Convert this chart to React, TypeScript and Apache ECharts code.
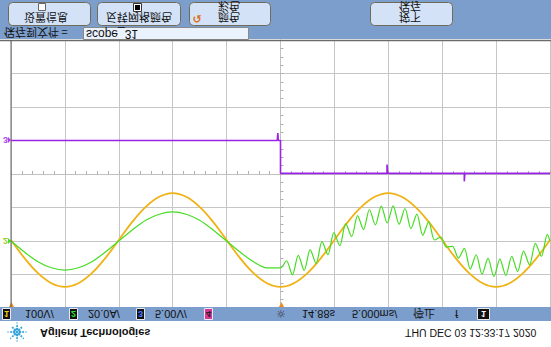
import React, { useEffect, useRef } from "react";
import * as echarts from "echarts";

// ---- data (time in ms relative to trigger, amplitude in screen divisions) ----
const timeMs1 = [-25, -23.75, -22.5, -21.25, -20, -18.75, -17.5, -16.25, -15, -13.75, -12.5, -11.25, -10, -8.75, -7.5, -6.25, -5, -3.75, -2.5, -1.25, 0, 1.25, 2.5, 3.75, 5, 6.25, 7.5, 8.75, 10, 11.25, 12.5, 13.75, 15, 16.25, 17.5, 18.75, 20, 21.25, 22.5, 23.75, 25];
const ch1Div = [-1.97, -2.51, -2.96, -3.26, -3.37, -3.26, -2.96, -2.51, -1.97, -1.43, -0.98, -0.68, -0.57, -0.68, -0.98, -1.43, -1.97, -2.51, -2.96, -3.26, -3.37, -3.26, -2.96, -2.51, -1.97, -1.43, -0.98, -0.68, -0.57, -0.68, -0.98, -1.43, -1.97, -2.51, -2.96, -3.26, -3.37, -3.26, -2.96, -2.51, -1.97];

const timeMs2 = [-25, -23.75, -22.5, -21.25, -20, -18.75, -17.5, -16.25, -15, -13.75, -12.5, -11.25, -10, -8.75, -7.5, -6.25, -5, -3.75, -2.5, -1.25,
  0, 0.55, 1.1, 1.65, 2.2, 2.75, 3.3, 3.85, 4.4, 4.95, 5.5, 6.05, 6.6, 7.15, 7.7, 8.25, 8.8, 9.35, 9.9, 10.45, 11, 11.55, 12.1, 12.65, 13.2, 13.75, 14.3, 14.85, 15.4, 15.95, 16.5, 17.05, 17.6, 18.15, 18.7, 19.25, 19.8, 20.35, 20.9, 21.45, 22, 22.55, 23.1, 23.65, 24.2, 24.75, 25];
const ch2Div = [-2.0, -2.33, -2.62, -2.8, -2.87, -2.8, -2.62, -2.33, -2.0, -1.67, -1.38, -1.2, -1.13, -1.2, -1.38, -1.67, -2.0, -2.33, -2.62, -2.8,
  -2.8, -2.59, -3.01, -2.43, -2.88, -2.26, -2.67, -2.02, -2.41, -1.75, -2.14, -1.48, -1.87, -1.24, -1.66, -1.06, -1.52, -0.96, -1.46, -0.95, -1.5, -1.03, -1.63, -1.2, -1.83, -1.43, -1.97, -1.88, -2.18, -2.16, -2.51, -2.22, -2.84, -2.41, -2.99, -2.52, -3.06, -2.54, -3.03, -2.46, -2.91, -2.3, -2.71, -2.07, -2.46, -1.8, -2.0];

const timeMs3 = [-25, -0.3, -0.25, -0.2, 0, 0, 9.88, 9.88, 9.95, 17.05, 17.05, 17.1, 25];
const ch3Div = [1.0, 1.0, 1.22, 1.0, 1.0, 0.02, 0.02, 0.28, 0.02, 0.02, -0.22, 0.02, 0.02];

const chScales = ["100V/", "20.0A/", "5.00V/"];
const delayText = "14.88s";
const timebaseText = "5.000ms/";
const runState = "停止";
const dateText = "THU DEC 03 12:33:17 2020";
const fileLabel = "保存到文件 =";
const fileName = "scope_31";
const softkeyLabels = ["设置信息", "反转网格颜色", "颜色\n彩色", "按下\n保存"];

const zip = (xs: number[], ys: number[]) => xs.map((x, i) => [x, ys[i]]);

const BLUE = "#7c9ecc";
const CJK = '"Noto Sans CJK SC"';
const SANS = '"Liberation Sans", Arial';

function ftext(x: number, y: number, text: string, o: any = {}) {
  return {
    type: "text",
    x,
    y,
    scaleY: -1,
    z: 40,
    style: {
      text,
      x: 0,
      y: 0,
      fill: o.fill || "#111",
      font: o.font || `11px ${CJK}`,
      align: o.align || "left",
      verticalAlign: "middle",
      lineHeight: o.lineHeight || 11,
    },
  };
}

export default function App() {
  const ref = useRef<HTMLDivElement>(null);
  useEffect(() => {
    if (!ref.current) return;
    const chart = echarts.init(ref.current, undefined, { renderer: "svg" });

    const g: any[] = [];
    // top toolbar
    g.push({ type: "rect", shape: { x: 0, y: 0, width: 551, height: 39 }, style: { fill: BLUE }, z: 1 });
    const btns = [
      { x: 8, w: 82 },
      { x: 97, w: 83 },
      { x: 189, w: 81 },
      { x: 370, w: 82 },
    ];
    btns.forEach((b) => {
      g.push({ type: "rect", shape: { x: b.x + 0.5, y: 2.5, width: b.w, height: 23, r: 4 }, style: { fill: "#d3e2f6", stroke: "#6f6b5a", lineWidth: 1 }, z: 5 });
    });
    // checkbox icons
    g.push({ type: "rect", shape: { x: 38.5, y: 3.5, width: 7, height: 7 }, style: { fill: "#ffffff", stroke: "#666", lineWidth: 1 }, z: 6 });
    g.push({ type: "rect", shape: { x: 133.5, y: 3.5, width: 8, height: 8 }, style: { fill: "#ffffff", stroke: "#333", lineWidth: 1 }, z: 6 });
    g.push({ type: "rect", shape: { x: 135, y: 5, width: 5, height: 5 }, style: { fill: "#000" }, z: 7 });
    g.push(ftext(46, 17.5, softkeyLabels[0], { align: "center" }));
    g.push(ftext(139, 17.5, softkeyLabels[1], { align: "center" }));
    g.push(ftext(229, 12.5, softkeyLabels[2], { align: "center" }));
    g.push(ftext(410, 12.5, softkeyLabels[3], { align: "center" }));
    g.push({ type: "text", x: 197, y: 19, z: 40, style: { text: "↺", fill: "#e06a10", font: `bold 11px "DejaVu Sans"`, align: "center", verticalAlign: "middle" } });
    // file name row
    g.push(ftext(4, 33, fileLabel, {}));
    g.push({ type: "rect", shape: { x: 83.5, y: 27.5, width: 165, height: 12 }, style: { fill: "#eaf2fd", stroke: "#8a8a8a", lineWidth: 1 }, z: 5 });
    g.push(ftext(86, 33.5, fileName, { font: `12px ${SANS}` }));

    // plot borders
    g.push({ type: "line", shape: { x1: 0, y1: 40.5, x2: 551, y2: 40.5 }, style: { stroke: "#6b6b6b", lineWidth: 1.5 }, z: 30 });
    g.push({ type: "line", shape: { x1: 11, y1: 40, x2: 11, y2: 307 }, style: { stroke: "#606060", lineWidth: 1 }, z: 30 });

    // left channel markers
    g.push(ftext(3, 140, "3", { fill: "#b040f0", font: `bold 9px ${SANS}` }));
    g.push({ type: "polygon", shape: { points: [[8, 137], [11, 140], [8, 143]] }, style: { fill: "#b040f0" }, z: 20 });
    g.push(ftext(3, 241, "2", { fill: "#9ccd1c", font: `bold 9px ${SANS}` }));
    g.push({ type: "polygon", shape: { points: [[8, 238], [11, 241], [8, 244]] }, style: { fill: "#44dd22" }, z: 20 });

    // trigger markers
    g.push({ type: "polygon", shape: { points: [[9, 307], [14, 307], [11.5, 302]] }, style: { fill: "#f08a1c" }, z: 25 });
    g.push({ type: "polygon", shape: { points: [[279, 307], [284, 307], [281.5, 302]] }, style: { fill: "#f08a1c" }, z: 25 });

    // status bar
    g.push({ type: "rect", shape: { x: 0, y: 307, width: 551, height: 14 }, style: { fill: BLUE }, z: 21 });
    const box = (x: number, w: number, fill: string, digit: string, dfill: string) => {
      g.push({ type: "rect", shape: { x: x + 0.5, y: 308.5, width: w, height: 11 }, style: { fill, stroke: "#e8e8e8", lineWidth: 1 }, z: 22 });
      g.push(ftext(x + w / 2 + 0.5, 314, digit, { fill: dfill, font: `bold 9px ${SANS}`, align: "center" }));
    };
    box(2, 8, "#111", "1", "#f0d010");
    box(69, 8, "#111", "2", "#30e030");
    box(136, 8, "#111", "3", "#5078ff");
    box(204, 8, "#d8369a", "4", "#222");
    g.push(ftext(25, 314, chScales[0], { font: `11px ${SANS}` }));
    g.push(ftext(88, 314, chScales[1], { font: `11px ${SANS}` }));
    g.push(ftext(155, 314, chScales[2], { font: `11px ${SANS}` }));
    g.push({ type: "text", x: 281, y: 314, z: 40, style: { text: "☼", fill: "#333", font: `11px "DejaVu Sans"`, align: "center", verticalAlign: "middle" } });
    g.push(ftext(302, 314, delayText, { font: `11px ${SANS}` }));
    g.push(ftext(352, 314, timebaseText, { font: `11px ${SANS}` }));
    g.push(ftext(413, 314, runState, { font: `11px ${CJK}` }));
    g.push(ftext(455, 314, "f", { font: `11px ${SANS}` }));
    g.push({ type: "rect", shape: { x: 477.5, y: 308.5, width: 12, height: 11 }, style: { fill: "#111", stroke: "#e8e8e8", lineWidth: 1 }, z: 22 });
    g.push(ftext(483.5, 314, "1", { fill: "#fff", font: `bold 9px ${SANS}`, align: "center" }));

    // Agilent logo spark
    const cx = 17, cy = 332;
    for (let a = 0; a < 8; a++) {
      const ang = (a * Math.PI) / 4;
      [3, 6, 9].forEach((rr, j) => {
        g.push({ type: "circle", shape: { cx: cx + Math.cos(ang) * rr, cy: cy + Math.sin(ang) * rr, r: [1.3, 1.0, 0.7][j] }, style: { fill: "#38a4dc" }, z: 20 });
      });
    }
    g.push({ type: "circle", shape: { cx, cy, r: 1.5 }, style: { fill: "#38a4dc" }, z: 20 });
    g.push(ftext(40, 333, "Agilent Technologies", { font: `bold 11px ${SANS}` }));
    g.push(ftext(405, 333, dateText, { font: `10.5px ${SANS}` }));

    const gridLine = { show: true, lineStyle: { color: "#c6c6c6", width: 1 } };
    chart.setOption({
      animation: false,
      backgroundColor: "#ffffff",
      grid: { left: 11, right: 1, top: 40, bottom: 39, containLabel: false },
      xAxis: {
        type: "value",
        min: -25,
        max: 25,
        interval: 5,
        axisLabel: { show: false },
        splitLine: gridLine,
        axisLine: { show: true, onZero: true, lineStyle: { color: "#c0c0c0" } },
        axisTick: { show: true, inside: true, length: 3, lineStyle: { color: "#b0b0b0" } },
        minorTick: { show: true, splitNumber: 5, length: 3, lineStyle: { color: "#b0b0b0" } },
      },
      yAxis: {
        type: "value",
        min: -4,
        max: 4,
        interval: 1,
        axisLabel: { show: false },
        splitLine: gridLine,
        axisLine: { show: true, onZero: true, lineStyle: { color: "#c0c0c0" } },
        axisTick: { show: true, inside: true, length: 3, lineStyle: { color: "#b0b0b0" } },
        minorTick: { show: true, splitNumber: 4, length: 3, lineStyle: { color: "#b0b0b0" } },
      },
      series: [
        {
          name: "CH1",
          type: "line",
          data: zip(timeMs1, ch1Div),
          smooth: 0.4,
          showSymbol: false,
          lineStyle: { color: "#f0b214", width: 1.8 },
          z: 3,
        },
        {
          name: "CH2",
          type: "line",
          data: zip(timeMs2, ch2Div),
          smooth: 0.3,
          showSymbol: false,
          lineStyle: { color: "#44dd22", width: 1.2 },
          z: 4,
        },
        {
          name: "CH3",
          type: "line",
          data: zip(timeMs3, ch3Div),
          showSymbol: false,
          lineStyle: { color: "#9a24e6", width: 1.6 },
          z: 5,
        },
      ],
      graphic: { elements: g },
    });
    return () => chart.dispose();
  }, []);
  return (
    <div
      ref={ref}
      style={{ position: "fixed", left: 0, top: 0, width: 551, height: 347, background: "#fff" }}
    />
  );
}
